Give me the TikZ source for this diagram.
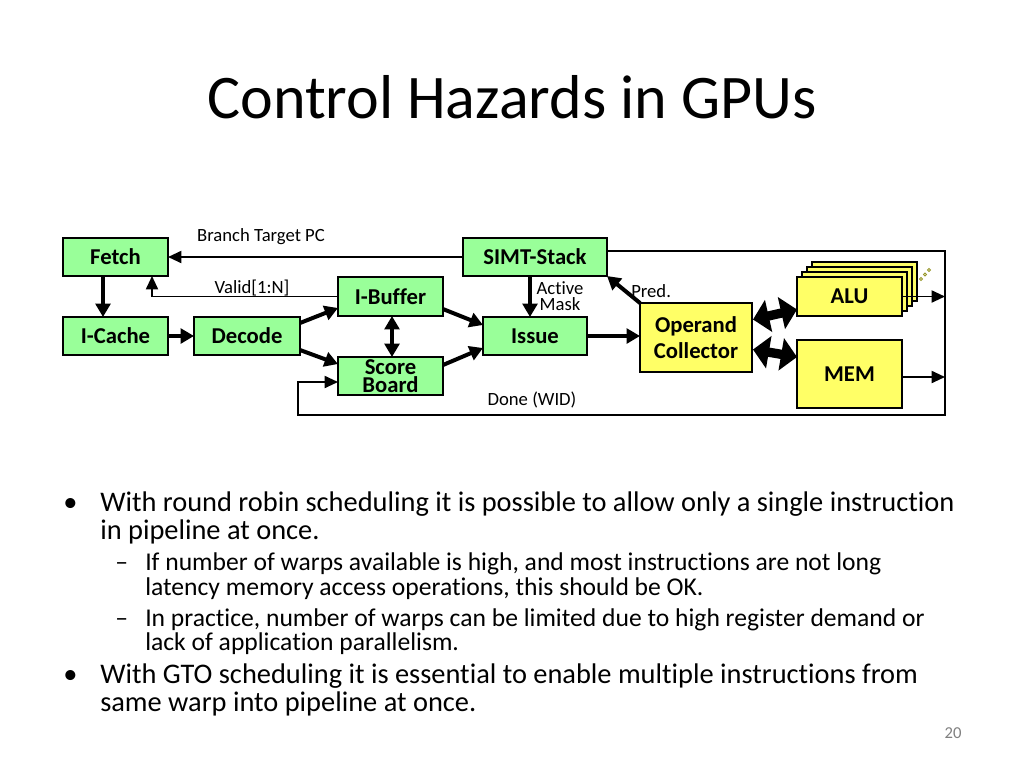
\documentclass[tikz,border=0pt]{standalone}
\usepackage{fontspec}
\setmainfont{Carlito}[Ligatures=NoCommon]
\usetikzlibrary{arrows.meta,calc,positioning}
\definecolor{boxgreen}{RGB}{153,255,153}
\definecolor{boxyellow}{RGB}{255,255,102}
\definecolor{dotolive}{RGB}{150,150,40}
\tikzset{>=Triangle}
\tikzstyle{unit}=[draw, line width=1.5pt, inner sep=0pt, outer sep=0pt,
  align=center, font=\fontsize{17}{14}\selectfont\bfseries]
\tikzstyle{stage}=[unit, fill=boxgreen]
\tikzstyle{exec}=[unit, fill=boxyellow]
\tikzstyle{bus}=[line width=3pt, -{Triangle[length=10pt,width=11pt]}]
\tikzstyle{sig}=[line width=1.4pt, -{Triangle[length=10pt,width=9pt]}]
\tikzstyle{fat}=[line width=7pt,
  {Triangle[length=12pt,width=24pt]}-{Triangle[length=12pt,width=24pt]}]
\tikzstyle{lbl}=[inner sep=0pt, font=\fontsize{14}{12}\selectfont]
\tikzstyle{itemA}=[anchor=base west, inner sep=0pt, font=\fontsize{21.3}{24}\selectfont]
\tikzstyle{itemB}=[anchor=base west, inner sep=0pt, font=\fontsize{19.2}{22}\selectfont]

\begin{document}
\begin{tikzpicture}[x=0.75pt, y=-0.75pt]
  \useasboundingbox[fill=white] (0,0) rectangle (1024,768);

  \node[font=\fontsize{46.5}{50}\selectfont] (title) at (512,97) {Control Hazards in GPUs};

  % pipeline front end
  \node[stage, minimum width=78.75pt, minimum height=28.5pt] (fetch) at (115.5,257) {Fetch};
  \node[stage, minimum width=78.75pt, minimum height=28.5pt] (icache) at (115.5,336) {I-Cache};
  \node[stage, minimum width=79.5pt, minimum height=28.5pt] (decode) at (247,336) {Decode};
  \node[stage, minimum width=78.75pt, minimum height=29.25pt] (ibuf) at (390.5,296.5) {I-Buffer};
  \node[stage, minimum width=78.75pt, minimum height=28.5pt] (score) at (390.5,376) {Score\\Board};
  \node[stage, minimum width=108pt, minimum height=28.5pt] (simt) at (535,257) {SIMT-Stack};
  \node[stage, minimum width=78pt, minimum height=28.5pt] (issue) at (535,336) {Issue};

  % back end
  \node[exec, minimum width=84pt, minimum height=51.75pt,
    font=\fontsize{17}{20}\selectfont\bfseries] (oc) at (696,337.5) {Operand\\Collector};
  \foreach \d in {3,2,1}
    \filldraw[fill=boxyellow, line width=1.5pt] (797+5*\d,277-5*\d) rectangle (902+5*\d,316-5*\d);
  \node[exec, minimum width=78.75pt, minimum height=29.25pt] (alu) at (849.5,296.5) {ALU};
  \node[exec, minimum width=78.75pt, minimum height=51pt] (mem) at (849.5,374) {MEM};
  \foreach \i in {0,1,2}
    \draw[dotolive, line width=0.6pt] (921+4*\i,279-4.5*\i) circle (1.5);

  \coordinate (ne) at (945,251);
  \coordinate (se) at (945,415);
  \coordinate (sw) at (298,415);

  \draw[bus] ($(fetch.south)+(-12.5,0)$) -- ($(icache.north)+(-12.5,0)$);
  \draw[bus] (icache.east) -- (decode.west);
  \draw[bus] ($(decode.east)+(0,-13)$) -- ($(ibuf.west)+(0,11.5)$);
  \draw[bus] ($(decode.east)+(0,14)$) -- ($(score.west)+(0,-12)$);
  \draw[bus, {Triangle[length=10pt,width=11pt]}-{Triangle[length=10pt,width=11pt]}]
    ($(ibuf.south)+(1.5,0)$) -- ($(score.north)+(1.5,0)$);
  \draw[bus] ($(ibuf.east)+(0,12.5)$) -- ($(issue.west)+(0,-11)$);
  \draw[bus] ($(score.east)+(0,-11)$) -- ($(issue.west)+(0,12)$);
  \draw[bus] ($(simt.south)+(-5,0)$) -- ($(issue.north)+(-5,0)$);
  \draw[bus] (issue.east) -- (issue.east -| oc.west);
  \draw[bus] (oc.north west) -- (simt.south east);
  \draw[fat] ($(oc.east)+(1,-18)$) -- ($(alu.west)+(0,13)$);
  \draw[fat] ($(oc.east)+(1,12)$) -- ($(mem.west)+(0,-17)$);

  \draw[sig] (simt.west) -- (fetch.east);
  \draw[sig] (ibuf.west) -- (152,296.5) -- (fetch.south -| 152,0);
  \draw[sig] (alu.east) -- (alu.east -| ne);
  \draw[sig] ($(mem.east)+(0,3)$) -- ($(mem.east -| ne)+(0,3)$);
  \draw[sig] (simt.east |- ne) -- (ne) -- (se) -- (sw) -- (sw |- 0,382) -- ($(score.west)+(0,6)$);

  \node[lbl] (btpc) at (261,237) {Branch Target PC};
  \node[lbl] (valid) at (252,288) {Valid[1:N]};
  \node[lbl, align=center] (amask) at (560,296.5) {Active\\Mask};
  \node[lbl, anchor=west] (pred) at (631,291) {Pred.};
  \node[lbl] (done) at (532,400) {Done (WID)};

  % bullets
  \node[itemA] (b1) at (63,511) {•};
  \node[itemA] (l1) at (100,511) {With round robin scheduling it is possible to allow only a single instruction};
  \node[itemA] (l2) at (100,539) {in pipeline at once.};
  \node[itemB] (d1) at (115,570) {–};
  \node[itemB] (l3) at (145,570) {If number of warps available is high, and most instructions are not long};
  \node[itemB] (l4) at (145,595) {latency memory access operations, this should be OK.};
  \node[itemB] (d2) at (115,626) {–};
  \node[itemB] (l5) at (145,626) {In practice, number of warps can be limited due to high register demand or};
  \node[itemB] (l6) at (145,650) {lack of application parallelism.};
  \node[itemA] (b2) at (63,683) {•};
  \node[itemA] (l7) at (100,683) {With GTO scheduling it is essential to enable multiple instructions from};
  \node[itemA] (l8) at (100,711) {same warp into pipeline at once.};

  \node[lbl, text=gray, font=\fontsize{12.5}{13}\selectfont] (pgno) at (953,733) {20};
\end{tikzpicture}
\end{document}
